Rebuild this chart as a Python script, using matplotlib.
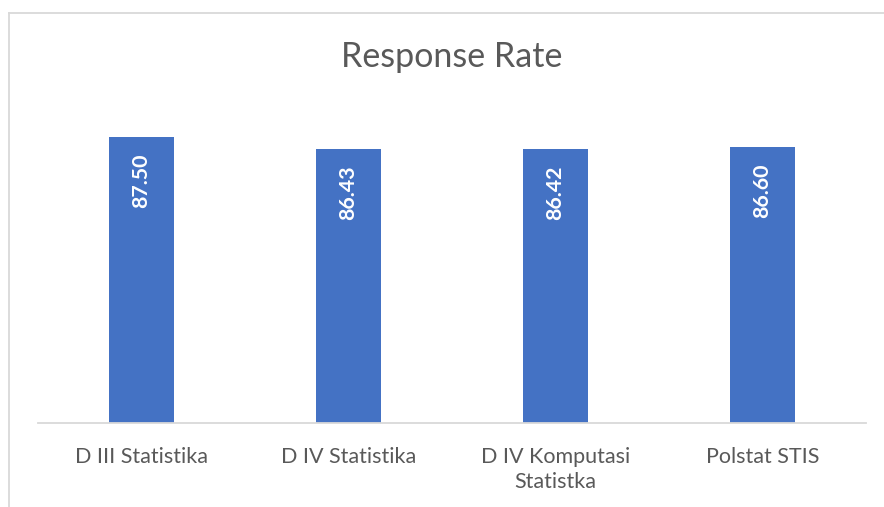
import matplotlib.pyplot as plt
from matplotlib.lines import Line2D

# Chart data
categories = ['D III Statistika', 'D IV Statistika', 'D IV Komputasi\nStatistka', 'Polstat STIS']
rates = [87.50, 86.43, 86.42, 86.60]

plt.rcParams['font.family'] = ['Lato', 'DejaVu Sans']

fig = plt.figure(figsize=(8.84, 5.07), dpi=100)
ax = fig.add_axes([38 / 884, 1 - 423 / 507, 828 / 884, 314 / 507])

bars = ax.bar(range(len(categories)), rates, width=0.314, color='#4472c4', zorder=2)

# Value labels inside the bar tops, rotated
for b, v in zip(bars, rates):
    ax.annotate(f'{v:.2f}', (b.get_x() + b.get_width() / 2, b.get_height()),
                xytext=(0, -16), textcoords='offset pixels', rotation=90,
                ha='center', va='top', color='white', fontweight='bold', fontsize=15.4)

ax.set_xlim(-0.5, len(categories) - 0.5)
ax.set_ylim(62, 90)
ax.set_yticks([])
ax.set_xticks(range(len(categories)))
ax.set_xticklabels(categories, fontsize=15.5, color='#595959', linespacing=1.35)
ax.tick_params(axis='x', length=0, pad=17)
for s in ['top', 'right', 'left']:
    ax.spines[s].set_visible(False)
ax.spines['bottom'].set_color('#d9d9d9')
ax.spines['bottom'].set_linewidth(1.3)

fig.text(452 / 884, 1 - 57 / 507, 'Response Rate', ha='center', va='center',
         fontsize=24.5, color='#595959')

# Chart frame border (left and top edges visible)
fig.add_artist(Line2D([8.5 / 884, 8.5 / 884], [0, 1 - 12.5 / 507], color='#d9d9d9', lw=1.3))
fig.add_artist(Line2D([8.5 / 884, 1], [1 - 12.5 / 507, 1 - 12.5 / 507], color='#d9d9d9', lw=1.3))

fig.savefig('out.png', dpi=100)
